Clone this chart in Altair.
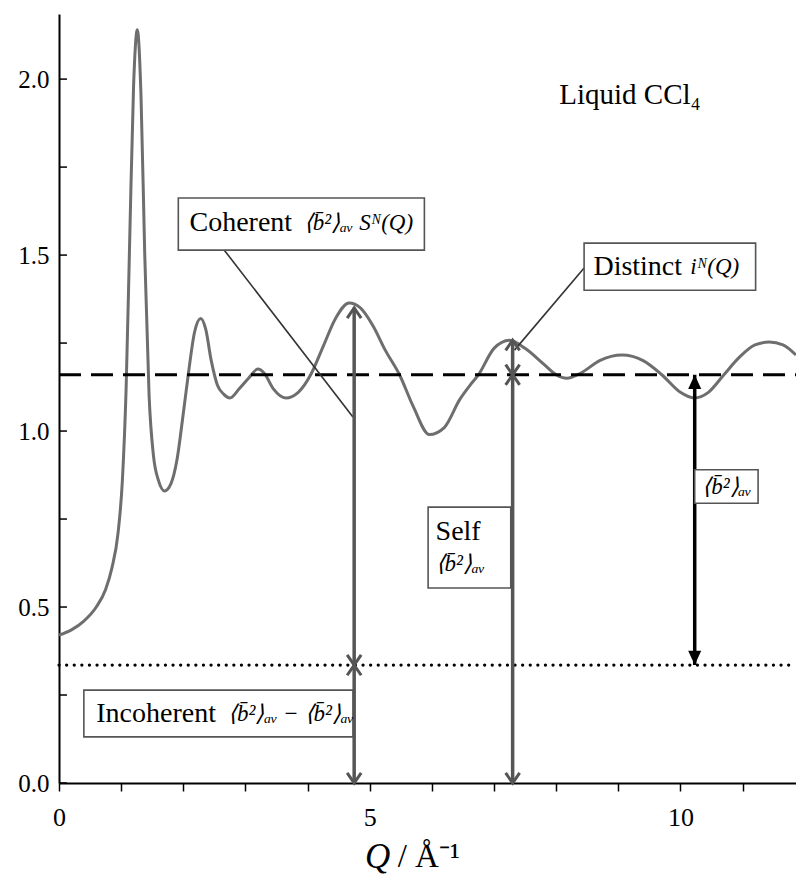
import altair as alt
import pandas as pd

# ---------------- data ----------------
q_vals = [0.0, 0.2, 0.4, 0.6, 0.75, 0.85, 0.95, 1.02, 1.08, 1.14, 1.2, 1.26, 1.32, 1.38, 1.45,
          1.52, 1.6, 1.7, 1.8, 1.9, 2.0, 2.08, 2.18, 2.28, 2.36, 2.45, 2.55, 2.65, 2.75, 2.9,
          3.05, 3.2, 3.3, 3.45, 3.65, 3.85, 4.05, 4.25, 4.45, 4.67, 4.85, 5.05, 5.25, 5.48,
          5.7, 5.96, 6.2, 6.45, 6.64, 6.75, 7.0, 7.25, 7.5, 7.8, 8.0, 8.17, 8.4, 8.7, 9.06,
          9.4, 9.7, 10.0, 10.22, 10.45, 10.7, 10.95, 11.2, 11.43, 11.65, 11.86]
s_vals = [0.42, 0.435, 0.46, 0.50, 0.55, 0.61, 0.71, 0.86, 1.12, 1.56, 1.98, 2.14, 1.95, 1.50, 1.10,
          0.93, 0.86, 0.83, 0.85, 0.92, 1.05, 1.16, 1.28, 1.32, 1.29, 1.20, 1.13, 1.105, 1.094, 1.12,
          1.15, 1.176, 1.165, 1.12, 1.094, 1.11, 1.16, 1.24, 1.32, 1.364, 1.35, 1.30, 1.23, 1.16,
          1.07, 0.99, 1.01, 1.09, 1.136, 1.16, 1.235, 1.258, 1.235, 1.19, 1.16, 1.15, 1.165, 1.20, 1.216,
          1.20, 1.16, 1.11, 1.094, 1.11, 1.16, 1.21, 1.245, 1.253, 1.245, 1.216]

self_level = 1.16          # <b^2>av (dashed)
incoh_level = 0.335        # incoherent level (dotted)

x_ticks = list(range(0, 12))
x_labels = [0, 5, 10]
y_ticks = [0.0, 0.25, 0.5, 0.75, 1.0, 1.25, 1.5, 1.75, 2.0]
y_labels = [0.0, 0.5, 1.0, 1.5, 2.0]

# arrows: x position, lower value, upper value
arrow_x = [4.75, 4.75, 7.30, 7.30]
arrow_lo = [0.0, incoh_level, 0.0, self_level]
arrow_hi = [incoh_level, 1.35, self_level, 1.258]
black_arrow_x = 10.23

# label boxes
box_names = ["coherent", "distinct", "self", "selfright", "incoherent"]
box_x1 = [1.92, 8.45, 5.94, 10.23, 0.40]
box_x2 = [5.88, 11.21, 7.27, 11.25, 4.73]
box_y1 = [1.514, 1.40, 0.554, 0.795, 0.131]
box_y2 = [1.662, 1.534, 0.784, 0.89, 0.264]

# leader lines
lead_x1 = [2.66, 8.45]
lead_y1 = [1.514, 1.463]
lead_x2 = [4.73, 7.33]
lead_y2 = [1.04, 1.23]

roman_text = ["Coherent", "Distinct", "Self", "Incoherent"]
roman_x = [2.1, 8.6, 6.06, 0.6]
roman_y = [1.59, 1.466, 0.712, 0.197]

math_text = ["⟨b̄²⟩ₐᵥ Sᴺ(Q)", "iᴺ(Q)", "⟨b̄²⟩ₐᵥ", "⟨b̄²⟩ₐᵥ", "⟨b̄²⟩ₐᵥ − ⟨b̄²⟩ₐᵥ"]
math_x = [3.94, 10.16, 6.06, 10.35, 2.72]
math_y = [1.59, 1.466, 0.622, 0.842, 0.197]

FONT = "Liberation Serif"
GREY = "#6e6e6e"
ARROW_GREY = "#555555"

W, H = 737, 769
xs = alt.Scale(domain=[0, 11.86], nice=False, zero=False)
ys = alt.Scale(domain=[0, 2.185], nice=False, zero=False)

X_AXIS = alt.Axis(
    values=x_ticks, labelExpr="indexof([0,5,10], datum.value) >= 0 ? datum.label : ''",
    tickSize=8, tickColor="black", tickWidth=1.5, domainColor="black", domainWidth=2,
    labelFont=FONT, labelFontSize=26, labelColor="black", labelPadding=13,
    grid=False, title=None, labelFlush=False)
Y_AXIS = alt.Axis(
    values=y_labels, format=".1f", tickSize=0, domainColor="black", domainWidth=2,
    labelFont=FONT, labelFontSize=25, labelColor="black", labelPadding=10,
    grid=False, title=None, labelFlush=False)


def X(f="x"):
    return alt.X(f + ":Q", scale=xs, axis=X_AXIS)


def Y(f="y"):
    return alt.Y(f + ":Q", scale=ys, axis=Y_AXIS)


curve_df = pd.DataFrame({"x": q_vals, "y": s_vals})
base_curve = alt.Chart(curve_df).mark_line(
    color=GREY, strokeWidth=3, interpolate="monotone", clip=True
).encode(x=X(), y=Y())

# inward y ticks
ytick_df = pd.DataFrame({"y": y_ticks})
yticks = alt.Chart(ytick_df).mark_rule(color="black", strokeWidth=1.5).encode(
    y=Y(), x=alt.value(0), x2=alt.value(8))

# reference lines
lvl_df = pd.DataFrame({"x": [0, 11.86], "y": [self_level, self_level]})
dashed = alt.Chart(lvl_df).mark_line(color="black", strokeWidth=3, strokeDash=[22, 10]).encode(
    x=X(), y=Y())
dot_df = pd.DataFrame({"x": [0, 11.86], "y": [incoh_level, incoh_level]})
dotted = alt.Chart(dot_df).mark_line(color="black", strokeWidth=3.2, strokeDash=[0.1, 7.5],
                                     strokeCap="round").encode(x=X(), y=Y())

# grey double arrows
arr_df = pd.DataFrame({"x": arrow_x, "lo": arrow_lo, "hi": arrow_hi})
arr_lines = alt.Chart(arr_df).mark_rule(color=ARROW_GREY, strokeWidth=3.5).encode(
    x=X(), y=Y("lo"), y2="hi:Q")
down_heads = alt.Chart(arr_df).mark_point(
    shape="M-1,-1.45L0,0L1,-1.45", size=196, filled=False, color=ARROW_GREY, strokeWidth=3,
    opacity=1).encode(x=X(), y=Y("lo"))
up_heads = alt.Chart(arr_df).mark_point(
    shape="M-1,1.45L0,0L1,1.45", size=196, filled=False, color=ARROW_GREY, strokeWidth=3,
    opacity=1).encode(x=X(), y=Y("hi"))

# black arrow
barr_df = pd.DataFrame({"x": [black_arrow_x], "lo": [incoh_level], "hi": [self_level]})
barr_line = alt.Chart(barr_df).mark_rule(color="black", strokeWidth=3.5).encode(
    x=X(), y=Y("lo"), y2="hi:Q")
barr_down = alt.Chart(barr_df).mark_point(
    shape="M-1,-2.2L0,0L1,-2.2Z", size=170, filled=True, color="black", opacity=1).encode(
    x=X(), y=Y("lo"))
barr_up = alt.Chart(barr_df).mark_point(
    shape="M-1,2.2L0,0L1,2.2Z", size=170, filled=True, color="black", opacity=1).encode(
    x=X(), y=Y("hi"))

# leader lines
lead_df = pd.DataFrame({"x": lead_x1, "y": lead_y1, "x2": lead_x2, "y2": lead_y2})
leaders = alt.Chart(lead_df).mark_rule(color="#333333", strokeWidth=1.6).encode(
    x=X(), y=Y(), x2="x2:Q", y2="y2:Q")

# boxes
box_df = pd.DataFrame({"name": box_names, "x": box_x1, "x2": box_x2, "y": box_y1, "y2": box_y2})
boxes = alt.Chart(box_df).mark_rect(fill="white", stroke="#555555", strokeWidth=1.6).encode(
    x=X(), x2="x2:Q", y=Y(), y2="y2:Q")

# texts
rt_df = pd.DataFrame({"t": roman_text, "x": roman_x, "y": roman_y})
roman = alt.Chart(rt_df).mark_text(font=FONT, fontSize=28, align="left", baseline="middle",
                                   color="black").encode(x=X(), y=Y(), text="t:N")
mt_df = pd.DataFrame({"t": math_text, "x": math_x, "y": math_y})
math = alt.Chart(mt_df).mark_text(font=FONT, fontSize=23, fontStyle="italic", align="left",
                                  baseline="middle", color="black").encode(x=X(), y=Y(), text="t:N")

title_df = pd.DataFrame({"t": ["Liquid CCl₄"], "x": [8.05], "y": [1.955]})
title_txt = alt.Chart(title_df).mark_text(font=FONT, fontSize=29, align="left", baseline="middle",
                                          color="black").encode(x=X(), y=Y(), text="t:N")

# axis title pieces
qt_df = pd.DataFrame({"t": ["Q"], "x": [5.33]})
q_title = alt.Chart(qt_df).mark_text(font=FONT, fontSize=35, fontStyle="italic", align="right",
                                     baseline="middle", color="black").encode(
    x=X(), y=alt.value(H + 74), text="t:N")
ut_df = pd.DataFrame({"t": ["/ Å⁻¹"], "x": [5.45]})
u_title = alt.Chart(ut_df).mark_text(font=FONT, fontSize=33, align="left",
                                     baseline="middle", color="black").encode(
    x=X(), y=alt.value(H + 74), text="t:N")

chart = alt.layer(
    base_curve, yticks, dashed, dotted, leaders,
    arr_lines, down_heads, up_heads, barr_line, barr_down, barr_up,
    boxes, roman, math, title_txt, q_title, u_title
).properties(
    width=W, height=H,
    padding={"left": 59, "top": 14, "right": 0, "bottom": 106},
    autosize=alt.AutoSizeParams(type="none"),
).configure(
    font=FONT, background="white"
).configure_view(
    strokeWidth=0, stroke="transparent"
).configure_axis(
    labelFont=FONT, labelFontSize=25, labelColor="black"
)

chart.save("out.html", embed_options={"renderer": "svg", "actions": False})
